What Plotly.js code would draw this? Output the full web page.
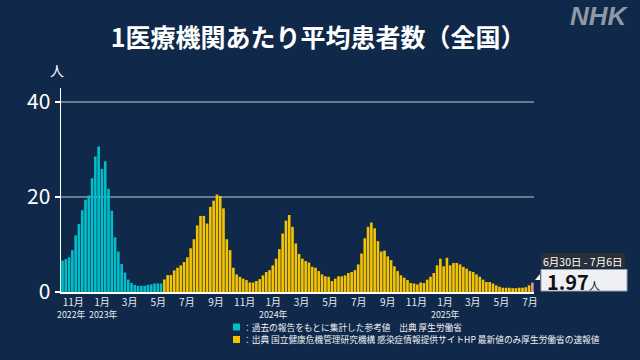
<!DOCTYPE html>
<html><head><meta charset="utf-8">
<script src="https://cdn.plot.ly/plotly-3.0.1.min.js"></script>
<style>html,body{margin:0;padding:0;background:#10284a;}#chart{width:640px;height:360px;}</style>
</head><body><div id="chart"></div>
<script>
// Weekly values (per-site average patients), weeks ending on Sundays
const refStartWeek = '2022-10-09';   // first reference (teal) week
const refValues = [6.6, 6.9, 7.3, 8.8, 11.9, 14.3, 17.2, 19.4, 20.3, 23.9, 28.5, 30.6, 25.9, 27.5, 21.7, 17.1, 11.5, 8.5, 5.9, 4.1, 2.6, 1.9, 1.5, 1.3, 1.3, 1.3, 1.5, 1.6, 1.8, 1.8, 1.8];
const niidStartWeek = '2023-05-14';  // first NIID (yellow) week
const niidValues = [
  2.63, 3.56, 3.55, 4.55, 5.11, 5.60, 6.3, 7.3, 9.2, 11.1, 14.0, 16.0, 16.0, 14.4, 17.9, 19.2, 20.5, 20.2, 17.6, 11.1, 8.8, 5.1, 3.7, 3.2, 2.8, 2.5, 2.0, 2.0, 2.3, 2.7, 3.5, 4.2,
  4.6, 5.6, 7.0, 9.0, 12.3, 15.0, 16.2, 13.7, 10.2, 8.0, 7.0, 6.5, 6.2, 5.3, 5.1, 4.4, 3.7, 3.3, 3.2, 2.3, 2.8, 3.3, 3.3, 3.5, 4.0, 4.2, 4.6, 5.8, 8.1, 11.3, 13.7, 14.6,
  13.4, 10.7, 8.5, 8.7, 7.5, 6.7, 5.4, 4.4, 3.5, 3.0, 2.5, 1.9, 1.8, 1.6, 2.0, 1.9, 2.6, 3.2, 4.0, 5.6, 7.0, 5.4, 7.2, 5.6, 6.1, 6.1, 5.8, 5.3, 4.9, 4.4, 4.2, 3.7, 3.2, 2.6, 2.1, 2.1, 1.8, 1.4, 1.1, 0.9, 0.9, 0.9, 0.8, 0.8, 0.9, 0.9, 1.0, 1.4, 1.97
];
const tickDates = ['2022-11-01','2023-01-01','2023-03-01','2023-05-01','2023-07-01','2023-09-01','2023-11-01','2024-01-01','2024-03-01','2024-05-01','2024-07-01','2024-09-01','2024-11-01','2025-01-01','2025-03-01','2025-05-01','2025-07-01'];
const tickLabels = ['11月','1月','3月','5月','7月','9月','11月','1月','3月','5月','7月','9月','11月','1月','3月','5月','7月'];
const yearDates = ['2022-10-28','2023-01-05','2024-01-01','2025-01-01'];
const yearLabels = ['2022年','2023年','2024年','2025年'];
const latestLabel = '6月30日 - 7月6日';
const legendRef = '：過去の報告をもとに集計した参考値　出典 厚生労働省';
const legendNiid = '：出典 国立健康危機管理研究機構 感染症情報提供サイトHP 最新値のみ厚生労働省の速報値';

function weeks(start, n){
  const out=[]; const d0=new Date(start+'T00:00:00Z').getTime();
  for(let i=0;i<n;i++){ out.push(new Date(d0+i*7*86400000).toISOString().slice(0,10)); }
  return out;
}
const refX = weeks(refStartWeek, refValues.length);
const niidX = weeks(niidStartWeek, niidValues.length);
const niidColors = niidValues.map((v,i)=> i===niidValues.length-1 ? '#e8909c' : '#f5c400');
const barW = 5.6*86400000;

const FONT = '"Noto Sans CJK JP", "Noto Sans", sans-serif';
const L=61, R=534, T=88, B=292;
const xp = px => (px-L)/(R-L);
const yp = py => (B-py)/(B-T);

const data = [
  {type:'bar', x:refX, y:refValues, width:barW, marker:{color:'#00bfca', line:{width:0}}, hoverinfo:'skip'},
  {type:'bar', x:niidX, y:niidValues, width:barW, marker:{color:niidColors, line:{width:0}}, hoverinfo:'skip'}
];
const last = niidValues[niidValues.length-1];

const yearAnns = yearLabels.map((t,i)=>({xref:'x', yref:'paper', x:yearDates[i], y:yp(314.8), text:t, showarrow:false,
  font:{size:8.8, color:'#e8ebf0', family:FONT}, xanchor:'center', yanchor:'middle', borderpad:0}));

const layout = {
  width:640, height:360,
  paper_bgcolor:'#10284a', plot_bgcolor:'#10284a',
  margin:{l:L, r:640-R, t:T, b:360-B},
  showlegend:false, barmode:'overlay',
  font:{family:FONT, color:'#ffffff'},
  title:{text:'<b>1医療機関あたり平均患者数（全国）</b>', font:{size:25, color:'#ffffff', family:FONT}, x:0.497, xref:'container', xanchor:'center', y:1-38/360, yref:'container', yanchor:'middle'},
  xaxis:{type:'date', range:['2022-10-05 19:00','2025-07-09 12:00'], tickmode:'array', tickvals:tickDates, ticktext:tickLabels, tickangle:0,
    tickfont:{size:10, color:'#e8ebf0', family:FONT}, ticks:'', showgrid:false, showline:true, linecolor:'#ffffff', linewidth:2, zeroline:false, fixedrange:true},
  yaxis:{range:[0,42.9], tickvals:[0,20,40], ticktext:['0','20','40'], tickfont:{size:21, color:'#ffffff', family:FONT},
    ticks:'outside', ticklen:5, tickcolor:'#ffffff', tickwidth:1.5, showline:true, linecolor:'#ffffff', linewidth:1.5,
    showgrid:true, gridcolor:'#6b7889', gridwidth:1.5, zeroline:false, fixedrange:true},
  shapes:[
    {type:'rect', xref:'paper', yref:'paper', x0:xp(541), x1:xp(625), y0:yp(268), y1:yp(253), fillcolor:'#2b3038', line:{width:0}},
    {type:'rect', xref:'paper', yref:'paper', x0:xp(541), x1:xp(627), y0:yp(291), y1:yp(269.5), fillcolor:'#eef0f4', line:{color:'#9aa3ad', width:1}},
    {type:'path', xref:'paper', yref:'paper', path:`M ${xp(535)} ${yp(280)} L ${xp(540)} ${yp(274)} L ${xp(540)} ${yp(280)} Z`, fillcolor:'#ffffff', line:{width:0}},
    {type:'rect', xref:'paper', yref:'paper', x0:xp(233), x1:xp(240), y0:yp(330.5), y1:yp(323.5), fillcolor:'#00bfca', line:{width:0}},
    {type:'rect', xref:'paper', yref:'paper', x0:xp(233), x1:xp(240), y0:yp(343), y1:yp(336), fillcolor:'#f5c400', line:{width:0}}
  ],
  annotations:[
    {xref:'paper', yref:'paper', x:xp(57), y:yp(70), text:'人', showarrow:false, font:{size:14, color:'#ffffff', family:FONT}, xanchor:'center', yanchor:'middle'},
    {xref:'paper', yref:'paper', x:xp(631), y:yp(16), text:'<b><i>NHK</i></b>', showarrow:false, font:{size:26, color:'#8f98a5', family:'"Liberation Sans", Arial, sans-serif'}, xanchor:'right', yanchor:'middle'},
    {xref:'paper', yref:'paper', x:xp(583), y:yp(261), text:latestLabel, showarrow:false, font:{size:10.5, color:'#ffffff', family:FONT}, xanchor:'center', yanchor:'middle'},
    {xref:'paper', yref:'paper', x:xp(545), y:yp(281), text:'<b>'+last.toFixed(2)+'</b><span style="font-size:11px">人</span>', showarrow:false, font:{size:20, color:'#111111', family:FONT}, xanchor:'left', yanchor:'middle'},
    {xref:'paper', yref:'paper', x:xp(242), y:yp(327.3), text:legendRef, showarrow:false, font:{size:8.7, color:'#f0f2f5', family:FONT}, xanchor:'left', yanchor:'middle', borderpad:0},
    {xref:'paper', yref:'paper', x:xp(242), y:yp(339.9), text:legendNiid, showarrow:false, font:{size:8.7, color:'#f0f2f5', family:FONT}, xanchor:'left', yanchor:'middle', borderpad:0}
  ].concat(yearAnns)
};
Plotly.newPlot('chart', data, layout, {staticPlot:true, displayModeBar:false});
</script></body></html>
